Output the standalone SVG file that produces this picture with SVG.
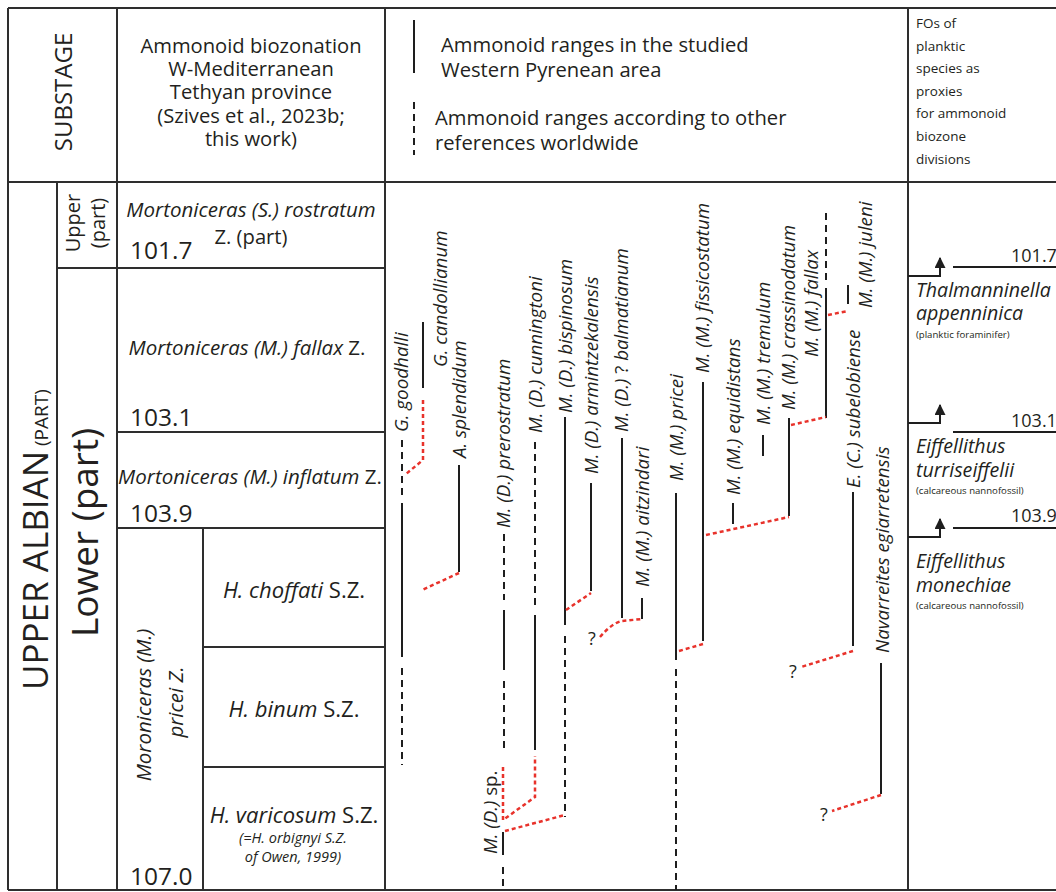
<svg xmlns="http://www.w3.org/2000/svg" width="1056" height="892" viewBox="0 0 1056 892">
<style>
.g{stroke:#2e2e2e;stroke-width:2;fill:none}
.r{stroke:#1e1e1e;stroke-width:2;fill:none}
.d{stroke-dasharray:7 5}
.red{stroke:#e8322b;stroke-width:2.5;stroke-dasharray:4 3;fill:none}
text{font-family:"Open Sans","Noto Sans",sans-serif;fill:#231f20}
.i{font-style:italic}
.n{font-style:normal}
.sp{font-size:18.8px;font-style:italic}
.hd{font-size:20.2px}
.zn{font-size:20.5px;font-style:italic}
.num{font-size:24.5px}
.fo{font-size:13.5px}
.fs{font-size:19.6px;font-style:italic}
.fsm{font-size:9.6px}
</style>
<defs>
<marker id="ah" viewBox="0 0 10 10" refX="9" refY="5" markerWidth="11" markerHeight="11" markerUnits="userSpaceOnUse" orient="auto">
<path d="M0,0 L10,5 L0,10 z" fill="#1e1e1e"/>
</marker>
</defs>
<rect width="1056" height="892" fill="#fff"/>

<g id="table" class="g">
<path d="M8,8 H1056 M8,182 H1056 M8,890 H1056 M8,8 V890 M117,8 V890 M57,182 V890 M385,8 V890 M908,8 V890 M57,268 H385 M117,432 H385 M117,528 H385 M203,528 V890 M203,647 H385 M203,767 H385"/>
</g>

<g id="header">
<text transform="translate(72,92) rotate(-90)" text-anchor="middle" font-size="24">SUBSTAGE</text>
<text class="hd" text-anchor="middle"><tspan x="251" y="53">Ammonoid biozonation</tspan><tspan x="251" y="76">W-Mediterranean</tspan><tspan x="251" y="99">Tethyan province</tspan><tspan x="251" y="123">(Szives et al., 2023b;</tspan><tspan x="251" y="146">this work)</tspan></text>
</g>

<g id="legend">
<line class="r" x1="414" y1="20" x2="414" y2="73"/>
<line class="r d" x1="414" y1="102" x2="414" y2="155"/>
<text class="hd"><tspan x="441" y="52">Ammonoid ranges in the studied</tspan><tspan x="441" y="77">Western Pyrenean area</tspan></text>
<text class="hd"><tspan x="435" y="125">Ammonoid ranges according to other</tspan><tspan x="435" y="150">references worldwide</tspan></text>
</g>

<g id="fos-header">
<text class="fo"><tspan x="916" y="28">FOs of</tspan><tspan x="916" y="51">planktic</tspan><tspan x="916" y="73">species as</tspan><tspan x="916" y="96">proxies</tspan><tspan x="916" y="118">for ammonoid</tspan><tspan x="916" y="141">biozone</tspan><tspan x="916" y="164">divisions</tspan></text>
</g>

<g id="substage">
<text transform="translate(48,690) rotate(-90)" font-size="35">UPPER ALBIAN<tspan font-size="19"> (PART)</tspan></text>
<text transform="translate(98,637) rotate(-90)" font-size="37">Lower (part)</text>
<text transform="translate(80,223) rotate(-90)" text-anchor="middle" font-size="20">Upper</text>
<text transform="translate(105,223) rotate(-90)" text-anchor="middle" font-size="20">(part)</text>
</g>

<g id="zones" text-anchor="middle">
<text x="251" y="217" class="zn">Mortoniceras (S.) rostratum</text>
<text x="251" y="244" class="hd">Z. (part)</text>
<text x="247" y="355" class="zn">Mortoniceras (M.) fallax <tspan class="n">Z.</tspan></text>
<text x="250" y="484" class="zn">Mortoniceras (M.) inflatum <tspan class="n">Z.</tspan></text>
<text transform="translate(151,705) rotate(-90)" class="zn">Moroniceras (M.)</text>
<text transform="translate(183,702) rotate(-90)" class="zn">pricei Z.</text>
<text x="294" y="598" font-size="22" class="i">H. choffati <tspan class="n">S.Z.</tspan></text>
<text x="294" y="717" font-size="22" class="i">H. binum <tspan class="n">S.Z.</tspan></text>
<text x="294" y="823" font-size="22" class="i">H. varicosum <tspan class="n">S.Z.</tspan></text>
<text font-size="14.5" class="i"><tspan x="293" y="843">(=H. orbignyi S.Z.</tspan><tspan x="293" y="862">of Owen, 1999)</tspan></text>
</g>
<g id="ages" class="num">
<text x="130" y="259" class="num">101.7</text>
<text x="130" y="426" class="num">103.1</text>
<text x="130" y="522" class="num">103.9</text>
<text x="130" y="885" class="num">107.0</text>
</g>

<g id="goodhalli">
<path class="r d" d="M402,440 V500 M402,668 V765"/>
<path class="r" d="M402,503 V657"/>
<text transform="translate(408,432) rotate(-90)" class="sp">G. goodhalli</text>
</g>
<g id="candollianum">
<path class="r" d="M423,322 V388"/>
<text transform="translate(447,367) rotate(-90)" class="sp">G. candollianum</text>
</g>
<g id="splendidum">
<path class="r" d="M459,465 V572"/>
<text transform="translate(466,458) rotate(-90)" class="sp">A. splendidum</text>
</g>
<g id="prerostratum">
<path class="r d" d="M504,534 V600 M504,681 V752"/>
<path class="r" d="M504,610 V670"/>
<text transform="translate(510,528) rotate(-90)" class="sp">M. (D.) prerostratum</text>
</g>
<g id="d-sp">
<path class="r" d="M503,832 V855"/>
<path class="r d" d="M503,867 V890"/>
<text transform="translate(497,854) rotate(-90)" class="sp">M. (D.) <tspan class="n">sp.</tspan></text>
</g>
<g id="cunningtoni">
<path class="r d" d="M535,442 V607"/>
<path class="r" d="M535,615 V750"/>
<text transform="translate(542,433) rotate(-90)" class="sp">M. (D.) cunningtoni</text>
</g>
<g id="bispinosum">
<path class="r" d="M565,417 V625"/>
<path class="r d" d="M565,636 V817"/>
<text transform="translate(572,413) rotate(-90)" class="sp">M. (D.) bispinosum</text>
</g>
<g id="armintzekalensis">
<path class="r" d="M591,483 V591"/>
<text transform="translate(598,474) rotate(-90)" class="sp">M. (D.) armintzekalensis</text>
</g>
<g id="balmatianum">
<path class="r" d="M622,438 V618"/>
<text transform="translate(628,432) rotate(-90)" class="sp">M. (D.) <tspan class="n">?</tspan> balmatianum</text>
</g>
<g id="aitzindari">
<path class="r" d="M642,598 V619"/>
<text transform="translate(649,587) rotate(-90)" class="sp">M. (M.) aitzindari</text>
<text x="588" y="645" font-size="18">?</text>
</g>
<g id="pricei">
<path class="r" d="M676,493 V660"/>
<path class="r d" d="M676,669 V890"/>
<text transform="translate(683,481) rotate(-90)" class="sp">M. (M.) pricei</text>
</g>
<g id="fissicostatum">
<path class="r" d="M703,382 V641"/>
<text transform="translate(709,373) rotate(-90)" class="sp">M. (M.) fissicostatum</text>
</g>
<g id="equidistans">
<path class="r" d="M733,503 V524"/>
<text transform="translate(740,495) rotate(-90)" class="sp">M. (M.) equidistans</text>
</g>
<g id="tremulum">
<path class="r" d="M763,435 V456"/>
<text transform="translate(770,425) rotate(-90)" class="sp">M. (M.) tremulum</text>
</g>
<g id="crassinodatum">
<path class="r" d="M789,418 V516"/>
<text transform="translate(795,410) rotate(-90)" class="sp">M. (M.) crassinodatum</text>
</g>
<g id="fallax">
<path class="r d" d="M826,213 V285"/>
<path class="r" d="M826,288 V418"/>
<text transform="translate(818,357) rotate(-90)" class="sp">M. (M.) fallax</text>
</g>
<g id="juleni">
<path class="r" d="M848,285 V304"/>
<text transform="translate(872,308) rotate(-90)" class="sp">M. (M.) juleni</text>
</g>
<g id="subelobiense">
<path class="r" d="M853,492 V646"/>
<text transform="translate(860,488) rotate(-90)" class="sp">E. (C.) subelobiense</text>
<text x="789" y="678" font-size="18">?</text>
</g>
<g id="egiarretensis">
<path class="r" d="M881,663 V794"/>
<text transform="translate(889,653) rotate(-90)" class="sp">Navarreites egiarretensis</text>
<text x="820" y="821" font-size="18">?</text>
</g>

<g id="connectors">
<path class="red" d="M423,400 V460 L406,474"/>
<path class="red" d="M459,573 L422,590"/>
<path class="red" d="M503,767 V820 L535,797 V756"/>
<path class="red" d="M505,831 L565,815"/>
<path class="red" d="M566,610 L591,593"/>
<path class="red" d="M600,637 Q612,623 622,621 L642,619"/>
<path class="red" d="M679,651 L703,644"/>
<path class="red" d="M706,535 L789,517"/>
<path class="red" d="M791,425 L826,417"/>
<path class="red" d="M828,315 L848,311"/>
<path class="red" d="M853,651 L801,667"/>
<path class="red" d="M881,795 L832,811"/>
</g>

<g id="fos">
<path class="r" d="M908,276 H940 V258" marker-end="url(#ah)"/>
<path class="r" d="M953,267 H1056"/>
<text x="1011" y="262" font-size="18">101.7</text>
<text class="fs"><tspan x="916" y="297">Thalmanninella</tspan><tspan x="916" y="320">appenninica</tspan></text>
<text x="916" y="338" class="fsm">(planktic foraminifer)</text>
<path class="r" d="M908,423 H940 V405" marker-end="url(#ah)"/>
<path class="r" d="M953,432 H1056"/>
<text x="1011" y="427" font-size="18">103.1</text>
<text class="fs"><tspan x="916" y="453">Eiffellithus</tspan><tspan x="916" y="477">turriseiffelii</tspan></text>
<text x="916" y="494" class="fsm">(calcareous nannofossil)</text>
<path class="r" d="M908,537 H940 V519" marker-end="url(#ah)"/>
<path class="r" d="M953,528 H1056"/>
<text x="1011" y="522" font-size="18">103.9</text>
<text class="fs"><tspan x="916" y="568">Eiffellithus</tspan><tspan x="916" y="592">monechiae</tspan></text>
<text x="916" y="609" class="fsm">(calcareous nannofossil)</text>
</g>
</svg>
